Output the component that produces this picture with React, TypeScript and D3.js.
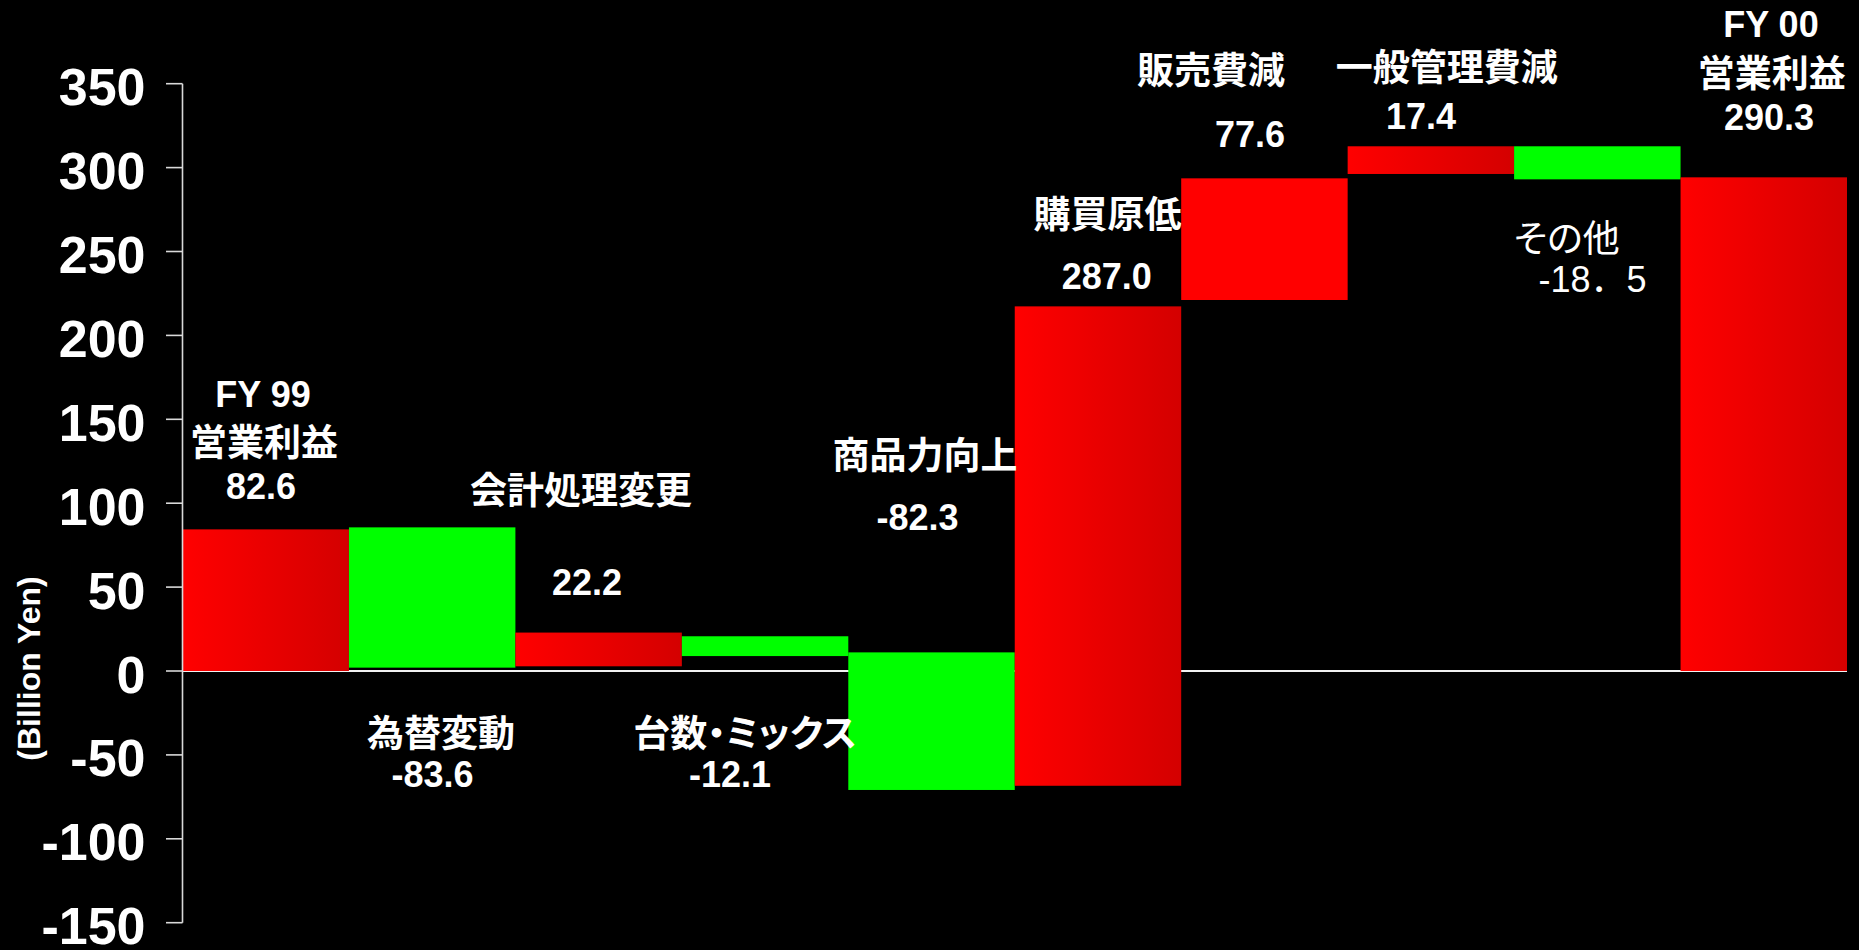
import React, { useEffect } from "react";
import * as d3 from "d3";

// ---- data (billion yen) ----
const categories = [
  "FY99営業利益",
  "為替変動",
  "会計処理変更",
  "台数・ミックス",
  "商品力向上",
  "購買原低",
  "販売費減",
  "一般管理費減",
  "その他",
  "FY00営業利益",
];
const changeValues = [82.6, -83.6, 22.2, -12.1, -82.3, 287.0, 77.6, 17.4, -18.5, 290.3];
const valueLabels = ["82.6", "-83.6", "22.2", "-12.1", "-82.3", "287.0", "77.6", "17.4", "-18．5", "290.3"];
const nameLines = [
  ["FY 99", "営業利益"],
  ["為替変動"],
  ["会計処理変更"],
  ["台数・ミックス"],
  ["商品力向上"],
  ["購買原低"],
  ["販売費減"],
  ["一般管理費減"],
  ["その他"],
  ["FY 00", "営業利益"],
];
// bar extents as drawn in the picture
const barLow = [0, 2.0, 2.8, 8.9, -70.9, -68.4, 221.1, 296.2, 293.0, 0];
const barHigh = [84.4, 85.6, 22.9, 20.7, 11.1, 217.3, 293.6, 312.7, 312.7, 294.2];
const yTicks = [-150, -100, -50, 0, 50, 100, 150, 200, 250, 300, 350];
const yAxisTitle = "(Billion Yen)";

// ---- layout ----
const W = 1859;
const H = 950;
const PLOT_LEFT = 182.5;
const PLOT_RIGHT = 1847;
const Y_TOP = 83.7;
const Y_BOTTOM = 922.7;

// label placement: dx in px from band centre, y in data units (baseline)
const labelLayout = [
  { nameDx: [-2.7, -1.7], nameY: [157.3, 128.4], valueDx: -4.7, valueY: 102.3, bold: true },
  { nameDx: [8.8], nameY: [-45.5], valueDx: 0.3, valueY: -69.1, bold: true },
  { nameDx: [-17.6], nameY: [99.3], valueDx: -11.6, valueY: 45.1, bold: true },
  { nameDx: [-20.1], nameY: [-45.5], valueDx: -35.1, valueY: -69.1, bold: true },
  { nameDx: [-6.5], nameY: [120.2], valueDx: -14, valueY: 83.9, bold: true },
  { nameDx: [9.5], nameY: [263.8], valueDx: 8.7, valueY: 227.9, bold: true },
  { nameDx: [-53.4], nameY: [349.6], valueDx: -14.4, valueY: 312.3, bold: true },
  { nameDx: [15.8], nameY: [351.6], valueDx: -9.9, valueY: 323.2, bold: true },
  { nameDx: [-30.6], nameY: [249.8], valueDx: -4.8, valueY: 225.9, bold: false },
  { nameDx: [7.2, 7.9], nameY: [377.8, 348.2], valueDx: 5.2, valueY: 322.2, bold: true },
];
const solidRedBars = new Set([6]);

const LATIN = "'Liberation Sans', Arial, 'Noto Sans CJK JP', sans-serif";
const CJK = "'Noto Sans CJK JP', 'Liberation Sans', sans-serif";
const isCJK = (s: string) => /[\u3000-\u9fff\uff00-\uffef]/.test(s) && !/^[-0-9.．]+$/.test(s.replace(/．/g, "."));

export default function App() {
  useEffect(() => {
    document.body.style.margin = "0";
    document.body.style.background = "#000";
  }, []);

  const x = d3.scaleBand<string>().domain(categories).range([PLOT_LEFT, PLOT_RIGHT]).paddingInner(0).paddingOuter(0);
  const y = d3.scaleLinear().domain([-150, 350]).range([Y_BOTTOM, Y_TOP]);
  const bw = x.bandwidth();

  return (
    <svg
      width={W}
      height={H}
      viewBox={`0 0 ${W} ${H}`}
      style={{ position: "absolute", left: 0, top: 0, display: "block", background: "#000" }}
    >
      <defs>
        <linearGradient id="redGrad" x1="0" x2="1" y1="0" y2="0">
          <stop offset="0%" stopColor="#ff0000" />
          <stop offset="100%" stopColor="#d40000" />
        </linearGradient>
      </defs>
      <rect x={0} y={0} width={W} height={H} fill="#000" />

      {/* zero line */}
      <line x1={PLOT_LEFT} x2={PLOT_RIGHT} y1={y(0)} y2={y(0)} stroke="#f2f2f2" strokeWidth={2.2} />

      {/* bars */}
      {categories.map((c, i) => {
        const x0 = x(c) as number;
        const top = y(barHigh[i]);
        const bottom = y(barLow[i]);
        const isDown = changeValues[i] < 0;
        const fill = isDown ? "#00ff00" : solidRedBars.has(i) ? "#ff0000" : "url(#redGrad)";
        return <rect key={c} x={x0} y={top} width={bw} height={bottom - top} fill={fill} />;
      })}

      {/* y axis */}
      <line x1={PLOT_LEFT} x2={PLOT_LEFT} y1={y(350)} y2={y(-150)} stroke="#d9d9d9" strokeWidth={1.6} />
      {yTicks.map((t) => (
        <g key={t}>
          <line x1={PLOT_LEFT - 16.5} x2={PLOT_LEFT} y1={y(t)} y2={y(t)} stroke="#d9d9d9" strokeWidth={1.6} />
          <text
            x={145.5}
            y={y(t) + 21.5}
            textAnchor="end"
            fill="#fff"
            fontFamily={LATIN}
            fontWeight="bold"
            fontSize={52}
          >
            {t}
          </text>
        </g>
      ))}
      <text
        transform={`translate(40, 668.5) rotate(-90)`}
        textAnchor="middle"
        fill="#fff"
        fontFamily={LATIN}
        fontWeight="bold"
        fontSize={32}
      >
        {yAxisTitle}
      </text>

      {/* labels */}
      {categories.map((c, i) => {
        const cx = (x(c) as number) + bw / 2;
        const L = labelLayout[i];
        const weight = L.bold ? "bold" : "normal";
        return (
          <g key={"lbl" + c}>
            {nameLines[i].map((line, j) => {
              const cjk = isCJK(line);
              return (
                <text
                  key={j}
                  x={cx + L.nameDx[j]}
                  y={y(L.nameY[j])}
                  textAnchor="middle"
                  fill="#fff"
                  fontFamily={cjk ? CJK : LATIN}
                  fontWeight={weight}
                  fontSize={cjk ? 37 : 36}
                  style={{ fontFeatureSettings: '"palt"' }}
                >
                  {line}
                </text>
              );
            })}
            <text
              x={cx + L.valueDx}
              y={y(L.valueY)}
              textAnchor="middle"
              fill="#fff"
              fontFamily={LATIN}
              fontWeight={weight}
              fontSize={36}
            >
              {valueLabels[i]}
            </text>
          </g>
        );
      })}
    </svg>
  );
}
